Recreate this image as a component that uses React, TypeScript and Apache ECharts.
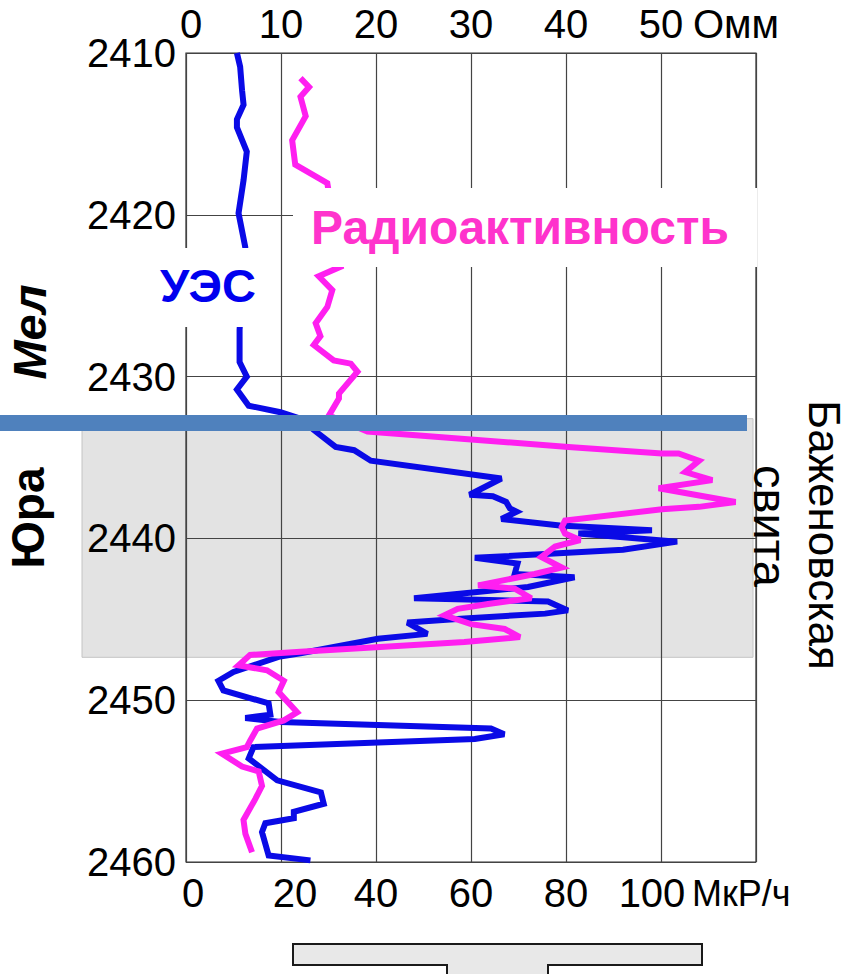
import React, { useEffect, useRef } from 'react';
import * as echarts from 'echarts';

// Depth axis (m)
const depthMin = 2410;
const depthMax = 2460;

// Resistivity log, УЭС (Омм) — depth and value
const uesDepth = [
  2410.0, 2410.85, 2412.3, 2413.2, 2414.1, 2414.6, 2416.1, 2417.85, 2419.9, 2422.0,
  2427.1, 2429.1, 2430.0, 2430.8, 2431.8, 2432.2, 2432.6, 2433.3, 2434.35, 2434.55,
  2435.2, 2436.3, 2437.3, 2437.4, 2437.75, 2438.15, 2438.35, 2438.8, 2439.2, 2439.5,
  2439.7, 2440.2, 2440.7, 2441.2, 2441.55, 2442.2, 2442.4, 2443.0, 2443.7, 2443.9,
  2444.45, 2444.65, 2444.95, 2445.2, 2445.9, 2446.2, 2447.1, 2447.3, 2448.25, 2448.8,
  2449.4, 2450.2, 2450.9, 2451.1, 2451.35, 2451.75, 2452.1, 2452.4, 2452.9, 2453.6,
  2454.95, 2455.7, 2456.4, 2456.9, 2457.3, 2457.6, 2458.15, 2459.6, 2459.9,
];
const uesOhm = [
  5.36, 5.7, 5.9, 6.06, 5.36, 5.36, 6.4, 6.06, 5.53, 6.24,
  5.64, 5.64, 6.4, 5.36, 6.6, 9.94, 12.05, 13.46, 15.75, 17.7,
  19.45, 33.2, 29.85, 32.3, 33.7, 34.1, 34.8, 33.2, 39.35, 49.05,
  41.3, 51.7, 46.0, 30.4, 34.9, 34.6, 40.9, 36.0, 24.0, 38.1,
  40.2, 37.8, 29.3, 23.3, 25.4, 20.2, 12.05, 9.9, 5.0, 3.41,
  3.94, 8.7, 8.88, 6.24, 9.94, 32.1, 33.5, 30.4, 7.1, 6.6,
  9.6, 14.2, 14.5, 11.35, 11.35, 8.35, 8.0, 8.7, 13.1,
];

// Gamma log, Радиоактивность (МкР/ч) — depth and value
const gammaDepth = [
  2411.55, 2412.1, 2412.7, 2413.9, 2415.4, 2416.9, 2418.05, 2423.2, 2423.8, 2424.65,
  2425.7, 2426.7, 2427.5, 2428.05, 2429.0, 2429.2, 2429.7, 2431.05, 2431.35, 2432.4,
  2433.4, 2434.35, 2434.75, 2434.75, 2435.2, 2435.9, 2436.4, 2436.9, 2437.75, 2438.05,
  2438.2, 2438.9, 2439.3, 2439.7, 2440.1, 2440.5, 2441.15, 2441.8, 2442.2, 2442.9,
  2443.1, 2443.7, 2444.05, 2444.35, 2444.75, 2445.3, 2445.6, 2446.1, 2446.4, 2447.0,
  2447.2, 2447.85, 2448.15, 2448.8, 2449.5, 2450.75, 2451.25, 2451.75, 2452.5, 2452.9,
  2453.3, 2454.1, 2454.4, 2455.3, 2456.1, 2457.4, 2458.25, 2459.4,
];
const gammaRate = [
  24.1, 25.9, 24.1, 25.2, 22.35, 23.0, 29.75, 32.6, 27.95, 30.8,
  29.75, 27.3, 28.3, 26.9, 31.1, 34.7, 36.1, 32.2, 32.2, 30.1,
  38.2, 80.5, 100.2, 103.7, 108.0, 105.1, 110.8, 99.5, 115.7, 108.0,
  100.2, 79.8, 79.1, 79.8, 83.0, 77.7, 74.8, 79.1, 73.4, 61.5,
  69.2, 72.7, 63.6, 57.2, 54.4, 60.0, 67.1, 70.3, 58.6, 24.1,
  13.5, 11.05, 17.05, 20.6, 19.5, 23.4, 20.6, 14.95, 13.5, 12.8,
  7.55, 11.8, 15.3, 16.0, 14.6, 12.1, 12.5, 13.9,
];

// Stratigraphic markers (depth, m)
const boundaryDepth = 2432.87; // Мел / Юра boundary
const bazhenovTop = 2432.6;
const bazhenovBase = 2447.35;

const SANS = '"Liberation Sans", Arial, sans-serif';

export default function App() {
  const ref = useRef<HTMLDivElement>(null);

  useEffect(() => {
    const chart = echarts.init(ref.current!, null, { renderer: 'svg' });
    const tick = { fontFamily: SANS, fontSize: 40, color: '#000' };

    chart.setOption({
      animation: false,
      grid: {
        left: 186, right: 94, top: 53, bottom: 112,
        show: true, borderColor: '#333', borderWidth: 1.2, backgroundColor: 'transparent',
      },
      xAxis: [
        {
          type: 'value', position: 'top', min: 0, max: 60, interval: 10,
          axisLine: { show: false }, axisTick: { show: false },
          splitLine: { show: true, lineStyle: { color: '#444', width: 1.2 } },
          axisLabel: {
            ...tick, margin: 9, showMaxLabel: true, showMinLabel: true,
            formatter: (v: number) => (v === 60 ? '{u|Омм}' : v === 0 ? '{z|0}' : String(v)),
            rich: { u: { ...tick, padding: [0, 40, 0, 0] }, z: { ...tick, padding: [0, 0, 0, 10] } },
          },
        },
        {
          type: 'value', position: 'bottom', min: 0, max: 120, interval: 20,
          axisLine: { show: false }, axisTick: { show: false }, splitLine: { show: false },
          axisLabel: {
            ...tick, margin: 11, showMinLabel: true,
            formatter: (v: number) =>
              v === 120 ? '' : v === 100 ? '{h|100}' : v === 20 ? '{s|20}' : v === 0 ? '{z|0}' : String(v),
            rich: {
              h: { ...tick, padding: [0, 18, 0, 0] },
              s: { ...tick, padding: [0, 0, 0, 28] },
              z: { ...tick, padding: [0, 0, 0, 14] },
            },
          },
        },
      ],
      yAxis: {
        type: 'value', inverse: true, min: depthMin, max: depthMax, interval: 10,
        axisLine: { show: false }, axisTick: { show: false },
        splitLine: { show: true, lineStyle: { color: '#444', width: 1.2 } },
        axisLabel: { ...tick, margin: 10, formatter: (v: number) => String(v) },
      },
      series: [
        {
          name: 'УЭС', type: 'line', xAxisIndex: 0, yAxisIndex: 0,
          data: uesDepth.map((d, i) => [uesOhm[i], d]),
          showSymbol: false, z: 3,
          lineStyle: { color: '#0a0ae6', width: 6, join: 'miter', miterLimit: 3 },
        },
        {
          name: 'Радиоактивность', type: 'line', xAxisIndex: 1, yAxisIndex: 0,
          data: gammaDepth.map((d, i) => [gammaRate[i], d]),
          showSymbol: false, z: 4,
          lineStyle: { color: '#ff1ff0', width: 6, join: 'miter', miterLimit: 3 },
        },
      ],
    });

    const py = (d: number) => chart.convertToPixel({ yAxisIndex: 0 }, d) as number;
    const shadeTop = py(bazhenovTop);
    const shadeBot = py(bazhenovBase);
    const bandY = py(boundaryDepth);
    const axisBottom = py(depthMax);

    chart.setOption({
      graphic: [
        {
          type: 'rect', z: -5,
          shape: { x: 82, y: shadeTop, width: 671, height: shadeBot - shadeTop },
          style: { fill: '#e3e3e3', stroke: '#c4c4c4', lineWidth: 1 },
        },
        {
          type: 'rect', z: 20,
          shape: { x: 0, y: bandY - 8, width: 747, height: 16 },
          style: { fill: '#4f81bd' },
        },
        { type: 'rect', z: 10, shape: { x: 150, y: 248, width: 129, height: 79 }, style: { fill: '#fff' } },
        { type: 'rect', z: 10, shape: { x: 293, y: 188, width: 464, height: 79 }, style: { fill: '#fff' } },
        {
          // unit of the lower (gamma) scale
          type: 'text', z: 11, x: 692, y: axisBottom + 31,
          style: { text: 'МкР/ч', font: `36px ${SANS}`, fill: '#000', align: 'left', verticalAlign: 'middle' },
        },
        {
          type: 'text', z: 11, x: 160, y: 285,
          style: { text: 'УЭС', font: `bold 47px ${SANS}`, fill: '#0000ee', align: 'left', verticalAlign: 'middle' },
        },
        {
          type: 'text', z: 11, x: 311, y: 227,
          style: { text: 'Радиоактивность', font: `bold 48px ${SANS}`, fill: '#ff33cc', align: 'left', verticalAlign: 'middle' },
        },
        {
          type: 'text', z: 11, x: 29, y: 332, rotation: Math.PI / 2,
          style: { text: 'Мел', font: `italic bold 47px ${SANS}`, fill: '#000', align: 'center', verticalAlign: 'middle' },
        },
        {
          type: 'text', z: 11, x: 28, y: 518, rotation: Math.PI / 2,
          style: { text: 'Юра', font: `bold 46px ${SANS}`, fill: '#000', align: 'center', verticalAlign: 'middle' },
        },
        {
          type: 'text', z: 11, x: 824, y: 535, rotation: -Math.PI / 2,
          style: { text: 'Баженовская', font: `44px ${SANS}`, fill: '#000', align: 'center', verticalAlign: 'middle' },
        },
        {
          type: 'text', z: 11, x: 770, y: 526, rotation: -Math.PI / 2,
          style: { text: 'свита', font: `47px ${SANS}`, fill: '#000', align: 'center', verticalAlign: 'middle' },
        },
        {
          type: 'polygon', z: 11,
          shape: {
            points: [
              [293, 944], [702, 944], [702, 965], [548, 965], [548, 990],
              [447, 990], [447, 965], [293, 965],
            ],
          },
          style: { fill: '#e8e8e8', stroke: '#1a1a1a', lineWidth: 2 },
        },
      ],
    });

    return () => chart.dispose();
  }, []);

  return (
    <div
      ref={ref}
      style={{ position: 'fixed', left: 0, top: 0, width: 850, height: 974, background: '#fff' }}
    />
  );
}
